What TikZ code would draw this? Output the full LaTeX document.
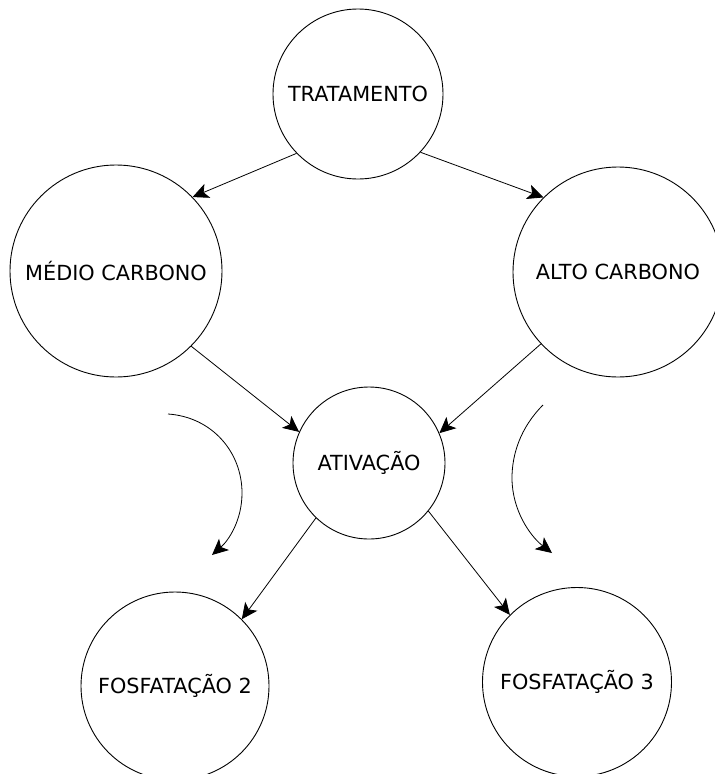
\documentclass[tikz,border=0pt]{standalone}
\usepackage{fontspec}
\setmainfont{DejaVu Sans}
\usetikzlibrary{arrows.meta}
\begin{document}
\begin{tikzpicture}[x=1pt,y=-1pt,
  state/.style={circle,draw=black,line width=0.9pt,inner sep=0pt,
    font=\fontsize{20.8pt}{24pt}\selectfont},
  flow/.style={draw=black,line width=0.8pt,
    -{Stealth[length=16pt,width=15pt,inset=4pt]}}]
  \useasboundingbox (0,0) rectangle (715,774);
  \clip (0,0) rectangle (715,774);

  % process states
  \node[state,minimum size=170pt] (trat)  at (358,94)  {TRATAMENTO};
  \node[state,minimum size=212pt] (medio) at (116,271) {MÉDIO CARBONO};
  \node[state,minimum size=210pt] (alto)  at (618,272) {ALTO CARBONO};
  \node[state,minimum size=152pt] (ativ)  at (369,463) {ATIVAÇÃO};
  \node[state,minimum size=188pt] (fos2)  at (175,686) {FOSFATAÇÃO 2};
  \node[state,minimum size=189pt] (fos3)  at (577,682) {FOSFATAÇÃO 3};

  % transitions between states
  \draw[flow] (trat.224)  -- (medio.44);
  \draw[flow] (trat.317)  -- (alto.135);
  \draw[flow] (medio.315) -- (ativ.156);
  \draw[flow] (alto.223)  -- (ativ.23);
  \draw[flow] (ativ.226)  -- (fos2.45);
  \draw[flow] (ativ.321)  -- (fos3.135);

  % curved side arrows
  \coordinate (lA) at (168,414);
  \coordinate (lB) at (212,555);
  \coordinate (rA) at (543,405);
  \coordinate (rB) at (552,553);
  \draw[flow] (lA) .. controls (212,417) and (242,452) .. (242,493)
                   .. controls (242,520) and (229,540) .. (lB);
  \draw[flow] (rA) .. controls (520,428) and (512,455) .. (512,478)
                   .. controls (512,510) and (530,536) .. (rB);
\end{tikzpicture}
\end{document}
